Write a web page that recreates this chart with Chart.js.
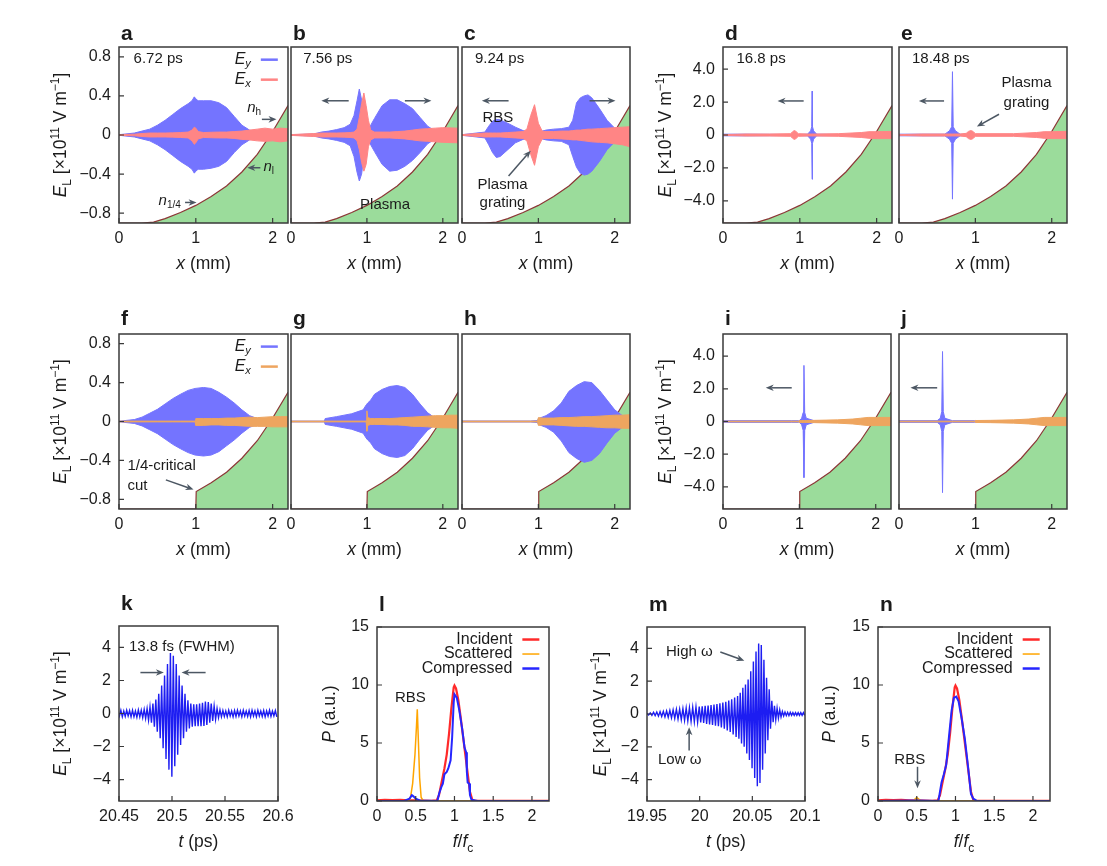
<!DOCTYPE html>
<html>
<head>
<meta charset="utf-8">
<script src="https://cdn.jsdelivr.net/npm/chart.js@4.4.1/dist/chart.umd.min.js"></script>
<style>
  body { margin: 0; background: #fff; }
  #fig { position: relative; width: 1107px; height: 866px; overflow: hidden; background: #fff; }
  #fig canvas { position: absolute; }
</style>
</head>
<body>
<div id="fig"></div>
<script>
// ---- tick values / labels ----
const xTicksMM = [0, 1, 2];
const xLabelsMM = ['0', '1', '2'];
const yTicksSmall = [-0.8, -0.4, 0, 0.4, 0.8];
const yLabelsSmall = ['\u22120.8', '\u22120.4', '0', '0.4', '0.8'];
const yTicksBig = [-4, -2, 0, 2, 4];
const yLabelsBig = ['\u22124.0', '\u22122.0', '0', '2.0', '4.0'];
const yLabelsWave = ['\u22124', '\u22122', '0', '2', '4'];
const yTicksP = [0, 5, 10, 15];
const yLabelsP = ['0', '5', '10', '15'];
const xTicksF = [0, 0.5, 1, 1.5, 2];
const xLabelsF = ['0', '0.5', '1', '1.5', '2'];
const xTicksK = [20.45, 20.5, 20.55, 20.6];
const xLabelsK = ['20.45', '20.5', '20.55', '20.6'];
const xTicksM = [19.95, 20, 20.05, 20.1];
const xLabelsM = ['19.95', '20', '20.05', '20.1'];

// ---- plasma density profile (hidden axis, 0 = bottom of panel) ----
const densX = [0, 0.3, 0.45, 0.6, 0.8, 1.0, 1.2, 1.4, 1.6, 1.8, 2.0, 2.2];
const densN = [0, 0, 0.005, 0.025, 0.06, 0.1, 0.15, 0.21, 0.29, 0.39, 0.52, 0.667];
const cutX = [0, 1.0, 1.005, 1.2, 1.4, 1.6, 1.8, 2.0, 2.2];
const cutN = [0, 0, 0.1, 0.15, 0.21, 0.29, 0.39, 0.52, 0.667];

// ---- field envelopes (x in mm, field in 1e11 V/m) ----
const aX = [0, 0.2, 0.3, 0.4, 0.5, 0.6, 0.7, 0.8, 0.9, 0.95, 0.98, 1.0, 1.03, 1.1, 1.2, 1.3, 1.4, 1.5, 1.6, 1.7, 1.8, 1.9, 2.0, 2.1, 2.2];
const aEyUp = [0.003, 0.02, 0.04, 0.06, 0.1, 0.15, 0.21, 0.27, 0.32, 0.35, 0.39, 0.37, 0.35, 0.35, 0.35, 0.33, 0.28, 0.19, 0.1, 0.05, 0.03, 0.02, 0.015, 0.01, 0.01];
const aEyLo = [-0.003, -0.02, -0.04, -0.06, -0.1, -0.15, -0.21, -0.27, -0.32, -0.35, -0.39, -0.37, -0.35, -0.35, -0.34, -0.32, -0.27, -0.18, -0.1, -0.05, -0.03, -0.02, -0.015, -0.01, -0.01];
const aExUp = [0.004, 0.008, 0.015, 0.02, 0.02, 0.02, 0.022, 0.025, 0.03, 0.05, 0.08, 0.07, 0.035, 0.025, 0.028, 0.03, 0.03, 0.035, 0.04, 0.05, 0.06, 0.07, 0.06, 0.07, 0.065];
const aExLo = [-0.004, -0.008, -0.015, -0.02, -0.02, -0.02, -0.022, -0.025, -0.03, -0.06, -0.095, -0.08, -0.04, -0.025, -0.028, -0.03, -0.03, -0.035, -0.045, -0.05, -0.06, -0.065, -0.06, -0.07, -0.06];

const bX = [0, 0.3, 0.4, 0.5, 0.6, 0.7, 0.78, 0.83, 0.87, 0.9, 0.93, 0.96, 0.99, 1.02, 1.05, 1.1, 1.2, 1.3, 1.4, 1.5, 1.6, 1.7, 1.8, 1.9, 2.0, 2.2];
const bEyUp = [0.003, 0.01, 0.03, 0.04, 0.055, 0.075, 0.11, 0.2, 0.35, 0.47, 0.36, 0.2, 0.09, 0.07, 0.1, 0.17, 0.3, 0.36, 0.36, 0.32, 0.27, 0.18, 0.09, 0.04, 0.02, 0.01];
const bEyLo = [-0.003, -0.01, -0.03, -0.04, -0.055, -0.075, -0.11, -0.22, -0.38, -0.47, -0.4, -0.22, -0.09, -0.07, -0.1, -0.17, -0.3, -0.37, -0.36, -0.32, -0.26, -0.18, -0.09, -0.04, -0.02, -0.01];
const bExUp = [0.004, 0.015, 0.02, 0.02, 0.02, 0.022, 0.025, 0.03, 0.06, 0.18, 0.32, 0.43, 0.3, 0.15, 0.05, 0.03, 0.03, 0.03, 0.035, 0.04, 0.05, 0.06, 0.065, 0.07, 0.075, 0.07];
const bExLo = [-0.004, -0.015, -0.02, -0.02, -0.02, -0.022, -0.025, -0.03, -0.06, -0.15, -0.28, -0.37, -0.3, -0.12, -0.05, -0.03, -0.03, -0.03, -0.035, -0.04, -0.05, -0.06, -0.065, -0.07, -0.075, -0.08];

const cX = [0, 0.3, 0.35, 0.4, 0.45, 0.5, 0.6, 0.7, 0.8, 0.85, 0.9, 0.95, 1.0, 1.05, 1.1, 1.2, 1.3, 1.4, 1.45, 1.5, 1.55, 1.6, 1.65, 1.7, 1.8, 1.9, 2.0, 2.1, 2.2];
const cEyUp = [0.003, 0.03, 0.09, 0.14, 0.16, 0.155, 0.12, 0.08, 0.045, 0.035, 0.03, 0.025, 0.03, 0.04, 0.05, 0.06, 0.065, 0.08, 0.15, 0.33, 0.38, 0.4, 0.41, 0.38, 0.27, 0.15, 0.07, 0.05, 0.04];
const cEyLo = [-0.003, -0.03, -0.1, -0.18, -0.23, -0.22, -0.15, -0.08, -0.045, -0.035, -0.03, -0.025, -0.03, -0.04, -0.05, -0.06, -0.065, -0.1, -0.22, -0.33, -0.39, -0.41, -0.4, -0.37, -0.27, -0.15, -0.07, -0.05, -0.04];
const cExUp = [0.004, 0.02, 0.02, 0.02, 0.02, 0.02, 0.025, 0.03, 0.035, 0.06, 0.2, 0.31, 0.12, 0.04, 0.035, 0.035, 0.04, 0.04, 0.045, 0.05, 0.05, 0.055, 0.06, 0.06, 0.065, 0.07, 0.075, 0.08, 0.085];
const cExLo = [-0.004, -0.02, -0.02, -0.02, -0.02, -0.02, -0.025, -0.03, -0.035, -0.06, -0.2, -0.31, -0.12, -0.04, -0.035, -0.035, -0.04, -0.045, -0.05, -0.05, -0.055, -0.06, -0.065, -0.07, -0.075, -0.08, -0.09, -0.1, -0.12];

const dX = [0, 0.3, 0.6, 0.88, 0.91, 0.93, 0.95, 0.98, 1.1, 1.14, 1.155, 1.16, 1.165, 1.18, 1.22, 1.5, 1.8, 1.9, 2.0, 2.2];
const dEyUp = [0.05, 0.05, 0.04, 0.03, 0.03, 0.03, 0.03, 0.03, 0.05, 0.25, 0.5, 2.67, 0.5, 0.25, 0.05, 0.03, 0.03, 0.03, 0.03, 0.03];
const dEyLo = [-0.05, -0.05, -0.04, -0.03, -0.03, -0.03, -0.03, -0.03, -0.05, -0.25, -0.5, -2.69, -0.5, -0.25, -0.05, -0.03, -0.03, -0.03, -0.03, -0.03];
const dExUp = [0.02, 0.06, 0.06, 0.08, 0.22, 0.27, 0.22, 0.08, 0.06, 0.06, 0.06, 0.06, 0.06, 0.06, 0.06, 0.08, 0.15, 0.2, 0.2, 0.22];
const dExLo = [-0.02, -0.06, -0.06, -0.08, -0.22, -0.27, -0.22, -0.08, -0.06, -0.06, -0.06, -0.06, -0.06, -0.06, -0.06, -0.08, -0.15, -0.2, -0.22, -0.22];

const eX = [0, 0.3, 0.6, 0.66, 0.69, 0.7, 0.71, 0.74, 0.8, 0.88, 0.91, 0.94, 0.97, 1.0, 1.5, 1.8, 1.9, 2.0, 2.2];
const eEyUp = [0.05, 0.05, 0.05, 0.25, 0.5, 3.85, 0.5, 0.25, 0.05, 0.03, 0.03, 0.03, 0.03, 0.03, 0.03, 0.03, 0.03, 0.03, 0.03];
const eEyLo = [-0.05, -0.05, -0.05, -0.25, -0.5, -3.9, -0.5, -0.25, -0.05, -0.03, -0.03, -0.03, -0.03, -0.03, -0.03, -0.03, -0.03, -0.03, -0.03];
const eExUp = [0.02, 0.06, 0.06, 0.06, 0.06, 0.06, 0.06, 0.06, 0.06, 0.1, 0.22, 0.27, 0.22, 0.08, 0.08, 0.15, 0.2, 0.2, 0.22];
const eExLo = [-0.02, -0.06, -0.06, -0.06, -0.06, -0.06, -0.06, -0.06, -0.06, -0.1, -0.22, -0.27, -0.22, -0.08, -0.08, -0.15, -0.2, -0.22, -0.22];

const fX = [0, 0.2, 0.3, 0.4, 0.5, 0.6, 0.7, 0.8, 0.9, 0.99, 1.0, 1.1, 1.2, 1.3, 1.4, 1.5, 1.6, 1.7, 1.8, 1.9, 2.0, 2.1, 2.2];
const fEyUp = [0.003, 0.02, 0.045, 0.085, 0.125, 0.18, 0.235, 0.28, 0.32, 0.34, 0.34, 0.35, 0.34, 0.3, 0.25, 0.19, 0.12, 0.06, 0.03, 0.015, 0.01, 0.01, 0.01];
const fEyLo = [-0.003, -0.02, -0.045, -0.085, -0.125, -0.18, -0.235, -0.28, -0.32, -0.345, -0.345, -0.355, -0.345, -0.31, -0.25, -0.19, -0.12, -0.06, -0.03, -0.015, -0.01, -0.01, -0.01];
const fExUp = [0.004, 0.004, 0.004, 0.004, 0.004, 0.004, 0.004, 0.004, 0.004, 0.004, 0.03, 0.03, 0.03, 0.03, 0.035, 0.035, 0.04, 0.045, 0.04, 0.045, 0.05, 0.05, 0.05];
const fExLo = [-0.004, -0.004, -0.004, -0.004, -0.004, -0.004, -0.004, -0.004, -0.004, -0.004, -0.04, -0.04, -0.035, -0.035, -0.04, -0.04, -0.045, -0.05, -0.05, -0.05, -0.055, -0.055, -0.055];

const gX = [0, 0.44, 0.45, 0.6, 0.8, 0.95, 0.99, 1.0, 1.01, 1.05, 1.1, 1.2, 1.3, 1.4, 1.5, 1.6, 1.7, 1.8, 1.9, 2.0, 2.1, 2.2];
const gEyUp = [0.004, 0.004, 0.03, 0.05, 0.08, 0.12, 0.17, 0.18, 0.19, 0.22, 0.28, 0.33, 0.36, 0.37, 0.35, 0.28, 0.18, 0.09, 0.035, 0.015, 0.01, 0.01];
const gEyLo = [-0.004, -0.004, -0.03, -0.05, -0.08, -0.12, -0.17, -0.18, -0.19, -0.22, -0.28, -0.33, -0.36, -0.37, -0.35, -0.28, -0.18, -0.09, -0.035, -0.015, -0.01, -0.01];
const gExUp = [0.004, 0.004, 0.004, 0.004, 0.004, 0.004, 0.004, 0.11, 0.04, 0.03, 0.03, 0.03, 0.03, 0.035, 0.04, 0.045, 0.05, 0.055, 0.06, 0.06, 0.065, 0.065];
const gExLo = [-0.004, -0.004, -0.004, -0.004, -0.004, -0.004, -0.004, -0.1, -0.04, -0.03, -0.03, -0.03, -0.035, -0.035, -0.04, -0.05, -0.05, -0.055, -0.06, -0.065, -0.065, -0.07];

const hX = [0, 0.9, 0.99, 1.0, 1.05, 1.1, 1.2, 1.3, 1.4, 1.5, 1.6, 1.7, 1.8, 1.9, 2.0, 2.1, 2.2];
const hEyUp = [0.005, 0.005, 0.01, 0.03, 0.045, 0.06, 0.11, 0.19, 0.31, 0.37, 0.41, 0.4, 0.32, 0.22, 0.12, 0.06, 0.04];
const hEyLo = [-0.005, -0.005, -0.01, -0.03, -0.045, -0.06, -0.11, -0.2, -0.32, -0.38, -0.42, -0.4, -0.33, -0.22, -0.12, -0.06, -0.04];
const hExUp = [0.004, 0.004, 0.004, 0.04, 0.035, 0.035, 0.035, 0.04, 0.04, 0.045, 0.05, 0.05, 0.055, 0.06, 0.065, 0.065, 0.07];
const hExLo = [-0.004, -0.004, -0.004, -0.04, -0.035, -0.035, -0.035, -0.04, -0.045, -0.05, -0.05, -0.055, -0.06, -0.065, -0.065, -0.07, -0.07];

const iX = [0, 0.9, 0.99, 1.0, 1.03, 1.05, 1.06, 1.07, 1.09, 1.2, 1.5, 1.7, 1.8, 1.9, 2.0, 2.2];
const iEyUp = [0.05, 0.05, 0.05, 0.05, 0.2, 0.55, 3.43, 0.55, 0.2, 0.04, 0.03, 0.03, 0.03, 0.03, 0.03, 0.03];
const iEyLo = [-0.05, -0.05, -0.05, -0.05, -0.2, -0.55, -3.43, -0.55, -0.2, -0.04, -0.03, -0.03, -0.03, -0.03, -0.03, -0.03];
const iExUp = [0.02, 0.02, 0.02, 0.06, 0.06, 0.06, 0.06, 0.06, 0.06, 0.07, 0.1, 0.15, 0.2, 0.25, 0.25, 0.25];
const iExLo = [-0.02, -0.02, -0.02, -0.06, -0.06, -0.06, -0.06, -0.06, -0.06, -0.07, -0.1, -0.15, -0.2, -0.25, -0.25, -0.25];

const jX = [0, 0.5, 0.54, 0.56, 0.57, 0.58, 0.6, 0.7, 0.99, 1.0, 1.2, 1.5, 1.7, 1.8, 1.9, 2.0, 2.2];
const jEyUp = [0.05, 0.05, 0.2, 0.6, 4.28, 0.6, 0.2, 0.05, 0.05, 0.04, 0.03, 0.03, 0.03, 0.03, 0.03, 0.03, 0.03];
const jEyLo = [-0.05, -0.05, -0.2, -0.6, -4.35, -0.6, -0.2, -0.05, -0.05, -0.04, -0.03, -0.03, -0.03, -0.03, -0.03, -0.03, -0.03];
const jExUp = [0.02, 0.02, 0.02, 0.02, 0.02, 0.02, 0.02, 0.02, 0.02, 0.06, 0.07, 0.1, 0.15, 0.2, 0.25, 0.25, 0.25];
const jExLo = [-0.02, -0.02, -0.02, -0.02, -0.02, -0.02, -0.02, -0.02, -0.02, -0.06, -0.07, -0.1, -0.15, -0.2, -0.25, -0.25, -0.25];

// ---- compressed pulses: per-cycle positive / negative peaks (t in ps) ----
const kSegs = [
  { t0: 20.449, period: 0.00275,
    pos: [0.15, 0.2, 0.15, 0.2, 0.18, 0.2, 0.15, 0.22, 0.2, 0.25, 0.3, 0.4, 0.6, 0.85, 1.2, 1.7, 2.3, 3.0, 3.67, 3.5, 3.0, 2.3, 1.7, 1.2, 0.8, 0.6, 0.55, 0.55, 0.6, 0.65, 0.72, 0.7, 0.6, 0.45, 0.3, 0.22, 0.18, 0.15, 0.2, 0.15, 0.18, 0.2, 0.15, 0.2, 0.15, 0.18, 0.2, 0.15, 0.2, 0.15, 0.18, 0.15, 0.2, 0.15, 0.18],
    neg: [-0.15, -0.2, -0.18, -0.15, -0.2, -0.2, -0.22, -0.2, -0.25, -0.3, -0.4, -0.55, -0.8, -1.1, -1.5, -2.1, -2.75, -3.4, -3.83, -3.2, -2.5, -1.9, -1.5, -1.1, -0.9, -0.8, -0.77, -0.77, -0.77, -0.75, -0.7, -0.56, -0.45, -0.35, -0.25, -0.2, -0.18, -0.2, -0.15, -0.2, -0.18, -0.15, -0.2, -0.15, -0.18, -0.2, -0.15, -0.2, -0.15, -0.18, -0.2, -0.15, -0.18, -0.15, -0.2] }
];
const mSegs = [
  { t0: 19.95, period: 0.0031,
    pos: [0.05, 0.07, 0.1, 0.12, 0.14, 0.16, 0.18, 0.22, 0.25, 0.28, 0.3, 0.33, 0.36, 0.38, 0.4, 0.43],
    neg: [-0.06, -0.08, -0.1, -0.13, -0.15, -0.18, -0.2, -0.24, -0.27, -0.3, -0.34, -0.38, -0.42, -0.45, -0.47, -0.5] },
  { t0: 19.9996, period: 0.0028,
    pos: [0.45, 0.47, 0.5, 0.52, 0.55, 0.58, 0.6, 0.65, 0.7, 0.75, 0.82, 0.9, 1.0],
    neg: [-0.52, -0.55, -0.6, -0.63, -0.67, -0.72, -0.75, -0.82, -0.9, -1.0, -1.1, -1.25, -1.4] },
  { t0: 20.036, period: 0.0025,
    pos: [1.1, 1.3, 1.6, 1.8, 2.1, 2.6, 3.2, 3.8, 4.3, 4.2, 3.3, 2.2, 1.5, 0.8, 0.5, 0.35, 0.25, 0.15, 0.12, 0.1, 0.1, 0.08, 0.08, 0.08, 0.08, 0.08],
    neg: [-1.5, -1.8, -2.0, -2.4, -2.8, -3.3, -3.9, -4.4, -4.2, -3.4, -2.4, -1.6, -0.9, -0.5, -0.35, -0.25, -0.18, -0.12, -0.1, -0.1, -0.08, -0.08, -0.08, -0.08, -0.08, -0.08] }
];

// ---- spectra (f/fc, a.u.) ----
const incX = [0, 0.1, 0.2, 0.3, 0.4, 0.5, 0.6, 0.7, 0.77, 0.8, 0.83, 0.87, 0.9, 0.93, 0.96, 0.99, 1.0, 1.02, 1.05, 1.08, 1.11, 1.14, 1.17, 1.2, 1.23, 1.26, 1.5, 2.0, 2.22];
const incY = [0.05, 0.1, 0.08, 0.1, 0.06, 0.05, 0.03, 0.02, 0.05, 0.5, 1.5, 2.8, 4.0, 5.8, 8.0, 9.8, 9.95, 9.7, 8.7, 7.2, 5.6, 4.0, 2.4, 0.8, 0.1, 0.02, 0.02, 0.02, 0.02];
const lScaX = [0, 0.4, 0.43, 0.46, 0.49, 0.51, 0.52, 0.535, 0.55, 0.57, 0.6, 2.22];
const lScaY = [0, 0, 0.2, 1.5, 4.0, 6.5, 7.9, 5.0, 2.0, 0.3, 0, 0];
const lComX = [0, 0.35, 0.42, 0.45, 0.47, 0.5, 0.55, 0.78, 0.8, 0.83, 0.85, 0.87, 0.9, 0.92, 0.95, 0.97, 0.99, 1.0, 1.03, 1.06, 1.1, 1.13, 1.15, 1.16, 1.17, 1.19, 1.2, 1.22, 1.3, 2.22];
const lComY = [0, 0, 0.2, 0.5, 0.4, 0.2, 0.05, 0, 0.6, 1.2, 1.5, 2.3, 2.5, 2.8, 3.5, 5.5, 8.5, 9.2, 8.9, 7.9, 6.2, 4.6, 4.2, 2.5, 1.6, 1.5, 0.5, 0.1, 0, 0];
const nScaX = [0, 0.45, 0.5, 0.53, 0.56, 2.22];
const nScaY = [0, 0, 0.3, 0.15, 0, 0];
const nComX = [0, 0.5, 0.78, 0.8, 0.82, 0.85, 0.88, 0.92, 0.95, 0.98, 1.01, 1.04, 1.08, 1.12, 1.16, 1.2, 1.23, 1.28, 2.22];
const nComY = [0, 0.05, 0, 0.8, 1.6, 2.3, 3.1, 5.8, 7.8, 8.9, 9.0, 8.6, 7.1, 5.4, 3.1, 0.6, 0.2, 0, 0];

// ---- styling ----
const FONT = '"Liberation Sans", Arial, Helvetica, sans-serif';
const INK = '#1b1b1b';
const ARROW = '#4c5763';
const EY = '#7474ff';
const EX_PINK = '#ff8585';
const EX_ORANGE = '#eea55f';
const GREEN = '#9bdc9b';
const BROWN = '#8c3636';
const WAVE = '#1d1df2';
const RED = '#ff2a2a', ORANGE = '#ffa500', BLUE = '#2626ff';
const PAD = { l: 80, t: 40, r: 30, b: 75 };

Chart.defaults.font.family = FONT;
Chart.defaults.color = INK;

const EL = [['E', 'i'], ['L', 'sub'], [' [\u00d710', ''], ['11', 'sup'], [' V m', ''], ['\u22121', 'sup'], [']', '']];
const XMM = [['x', 'i'], [' (mm)', '']];
const TPS = [['t', 'i'], [' (ps)', '']];
const FFC = [['f', 'i'], ['/', ''], ['f', 'i'], ['c', 'sub']];
const PAU = [['P', 'i'], [' (a.u.)', '']];
const EYL = [['E', 'i'], ['y', 'isub']];
const EXL = [['E', 'i'], ['x', 'isub']];

function segFont(st, size) {
  const small = st === 'sub' || st === 'sup' || st === 'isub';
  const it = st === 'i' || st === 'isub';
  return (it ? 'italic ' : '') + (small ? Math.round(size * 0.68) : size) + 'px ' + FONT;
}
function segShift(st, size) {
  if (st === 'sub' || st === 'isub') return size * 0.28;
  if (st === 'sup') return -size * 0.4;
  return 0;
}
function drawRich(ctx, segs, x, y, size, align) {
  if (typeof segs === 'string') segs = [[segs, '']];
  let w = 0;
  segs.forEach(([t, st]) => { ctx.font = segFont(st, size); w += ctx.measureText(t).width; });
  let cx = align === 'center' ? x - w / 2 : align === 'right' ? x - w : x;
  ctx.textAlign = 'left';
  segs.forEach(([t, st]) => {
    ctx.font = segFont(st, size);
    ctx.fillText(t, cx, y + segShift(st, size));
    cx += ctx.measureText(t).width;
  });
}
function arrow(ctx, x1, y1, x2, y2) {
  const ang = Math.atan2(y2 - y1, x2 - x1), hl = 8, hw = 3.3;
  const c = Math.cos(ang), s = Math.sin(ang);
  ctx.beginPath();
  ctx.moveTo(x1, y1);
  ctx.lineTo(x2 - hl * 0.7 * c, y2 - hl * 0.7 * s);
  ctx.stroke();
  ctx.beginPath();
  ctx.moveTo(x2, y2);
  ctx.lineTo(x2 - hl * c + hw * s, y2 - hl * s - hw * c);
  ctx.lineTo(x2 - hl * 0.7 * c, y2 - hl * 0.7 * s);
  ctx.lineTo(x2 - hl * c - hw * s, y2 - hl * s + hw * c);
  ctx.closePath();
  ctx.fill();
}

function deco(d) {
  return {
    id: 'deco',
    afterDraw(chart) {
      const { ctx, chartArea: a } = chart;
      const sx = chart.scales.x, sy = chart.scales.y;
      const X = v => sx.getPixelForValue(v), Y = v => sy.getPixelForValue(v);
      ctx.save();
      // inner tick marks
      ctx.strokeStyle = '#3a3a3a';
      ctx.lineWidth = 1.2;
      ctx.beginPath();
      sx.ticks.forEach(t => { ctx.moveTo(X(t.value), a.bottom); ctx.lineTo(X(t.value), a.bottom - 5); });
      if (d.yTicks) sy.ticks.forEach(t => { ctx.moveTo(a.left, Y(t.value)); ctx.lineTo(a.left + 5, Y(t.value)); });
      ctx.stroke();
      // frame
      ctx.lineWidth = 1.5;
      ctx.strokeRect(a.left, a.top, a.right - a.left, a.bottom - a.top);
      // panel letter + axis titles
      ctx.fillStyle = INK;
      ctx.textBaseline = 'alphabetic';
      ctx.textAlign = 'left';
      ctx.font = 'bold 21px ' + FONT;
      ctx.fillText(d.letter, a.left + 2, a.top - d.letterDy);
      drawRich(ctx, d.xTitle, (a.left + a.right) / 2, a.bottom + 46, 17.5, 'center');
      if (d.yTitle) {
        ctx.save();
        ctx.translate(a.left - d.yOff, (a.top + a.bottom) / 2);
        ctx.rotate(-Math.PI / 2);
        drawRich(ctx, d.yTitle, 0, 0, 17.5, 'center');
        ctx.restore();
      }
      // arrows
      ctx.strokeStyle = ARROW;
      ctx.fillStyle = ARROW;
      ctx.lineWidth = 1.5;
      (d.arrows || []).forEach(([x1, y1, x2, y2]) => arrow(ctx, X(x1), Y(y1), X(x2), Y(y2)));
      // notes
      ctx.fillStyle = INK;
      ctx.textBaseline = 'middle';
      (d.notes || []).forEach(([x, y, segs, align]) => drawRich(ctx, segs, X(x), Y(y), 15, align || 'left'));
      // legend
      if (d.legend) {
        const L = d.legend;
        const lx = a.left + L.fx * (a.right - a.left);
        L.items.forEach(([segs, color, lw], i) => {
          const ly = a.top + L.fy * (a.bottom - a.top) + i * L.dy;
          ctx.fillStyle = INK;
          drawRich(ctx, segs, lx, ly, 16, 'right');
          ctx.strokeStyle = color;
          ctx.lineWidth = lw;
          ctx.beginPath();
          ctx.moveTo(lx + 10, ly);
          ctx.lineTo(lx + 27, ly);
          ctx.stroke();
        });
      }
      ctx.restore();
    }
  };
}

function pts(xs, ys) { return xs.map((x, i) => ({ x, y: ys[i] })); }

function carrier(segs) {
  const out = [];
  segs.forEach(s => s.pos.forEach((p, i) => {
    const t = s.t0 + i * s.period;
    out.push({ x: t, y: p }, { x: t + s.period / 2, y: s.neg[i] });
  }));
  return out;
}

function fieldSets(profX, profN, x, eyUp, eyLo, exUp, exLo, exColor) {
  return [
    { data: pts(profX, profN), yAxisID: 'yd', borderColor: BROWN, borderWidth: 1.2, backgroundColor: GREEN, fill: 'start', order: 3 },
    { data: pts(x, eyUp), borderColor: EY, borderWidth: 1, fill: false, order: 2 },
    { data: pts(x, eyLo), borderColor: EY, borderWidth: 1, backgroundColor: EY, fill: '-1', order: 2 },
    { data: pts(x, exUp), borderColor: exColor, borderWidth: 1, fill: false, order: 1 },
    { data: pts(x, exLo), borderColor: exColor, borderWidth: 1, backgroundColor: exColor, fill: '-1', order: 1 }
  ];
}

function addPanel(box, cfg) {
  const [L, T, R, B] = box;
  const w = R - L + PAD.l + PAD.r, h = B - T + PAD.t + PAD.b;
  const c = document.createElement('canvas');
  c.width = w; c.height = h;
  c.style.left = (L - PAD.l) + 'px';
  c.style.top = (T - PAD.t) + 'px';
  c.style.width = w + 'px';
  c.style.height = h + 'px';
  document.getElementById('fig').appendChild(c);
  return new Chart(c, {
    type: 'line',
    data: { datasets: cfg.datasets },
    options: {
      responsive: false,
      animation: false,
      devicePixelRatio: 1,
      events: [],
      layout: { padding: { left: 0, top: PAD.t, right: PAD.r, bottom: 0 } },
      elements: { point: { radius: 0 }, line: { tension: 0 } },
      plugins: { legend: { display: false }, tooltip: { enabled: false } },
      scales: {
        x: {
          type: 'linear', min: cfg.xr[0], max: cfg.xr[1],
          grid: { display: false, drawTicks: false }, border: { display: false },
          afterBuildTicks: s => { s.ticks = cfg.xt.map(v => ({ value: v })); },
          afterFit: s => { s.height = PAD.b; },
          ticks: { autoSkip: false, maxRotation: 0, padding: 6, color: INK, font: { size: 16 }, callback: (v, i) => cfg.xl[i] }
        },
        y: {
          type: 'linear', min: cfg.yr[0], max: cfg.yr[1],
          grid: { display: false, drawTicks: false }, border: { display: false },
          afterBuildTicks: s => { s.ticks = cfg.yt.map(v => ({ value: v })); },
          afterFit: s => { s.width = PAD.l; },
          ticks: { display: !!cfg.yl, padding: 8, color: INK, font: { size: 16 }, callback: (v, i) => cfg.yl ? cfg.yl[i] : '' }
        },
        yd: { type: 'linear', display: false, min: 0, max: 1 }
      }
    },
    plugins: [deco(cfg.deco)]
  });
}

const SMALL = { xr: [0, 2.2], xt: xTicksMM, xl: xLabelsMM, yr: [-0.9, 0.9], yt: yTicksSmall };
const BIG = { xr: [0, 2.2], xt: xTicksMM, xl: xLabelsMM, yr: [-5.35, 5.35], yt: yTicksBig };

// ---- row 1 ----
addPanel([119, 47, 288, 223], Object.assign({}, SMALL, {
  yl: yLabelsSmall,
  datasets: fieldSets(densX, densN, aX, aEyUp, aEyLo, aExUp, aExLo, EX_PINK),
  deco: { letter: 'a', letterDy: 7, yTicks: true, yTitle: EL, yOff: 53, xTitle: XMM,
    notes: [[0.19, 0.78, '6.72 ps'], [1.76, 0.28, [['n', 'i'], ['h', 'sub']], 'center'], [1.95, -0.33, [['n', 'i'], ['l', 'sub']], 'center'], [0.66, -0.675, [['n', 'i'], ['1/4', 'sub']], 'center']],
    arrows: [[1.86, 0.16, 2.05, 0.16], [1.84, -0.335, 1.67, -0.335], [0.86, -0.69, 1.01, -0.69]],
    legend: { fx: 0.78, fy: 0.072, dy: 20, items: [[EYL, EY, 2.5], [EXL, EX_PINK, 2.5]] } }
}));
addPanel([291, 47, 458, 223], Object.assign({}, SMALL, {
  datasets: fieldSets(densX, densN, bX, bEyUp, bEyLo, bExUp, bExLo, EX_PINK),
  deco: { letter: 'b', letterDy: 7, xTitle: XMM,
    notes: [[0.16, 0.78, '7.56 ps'], [1.24, -0.71, 'Plasma', 'center']],
    arrows: [[0.76, 0.35, 0.40, 0.35], [1.50, 0.35, 1.85, 0.35]] }
}));
addPanel([462, 47, 630, 223], Object.assign({}, SMALL, {
  datasets: fieldSets(densX, densN, cX, cEyUp, cEyLo, cExUp, cExLo, EX_PINK),
  deco: { letter: 'c', letterDy: 7, xTitle: XMM,
    notes: [[0.17, 0.78, '9.24 ps'], [0.47, 0.18, 'RBS', 'center'], [0.53, -0.51, 'Plasma', 'center'], [0.53, -0.69, 'grating', 'center']],
    arrows: [[0.61, 0.35, 0.26, 0.35], [1.67, 0.35, 2.01, 0.35], [0.61, -0.42, 0.9, -0.16]] }
}));
addPanel([723, 47, 892, 223], Object.assign({}, BIG, {
  yl: yLabelsBig,
  datasets: fieldSets(densX, densN, dX, dEyUp, dEyLo, dExUp, dExLo, EX_PINK),
  deco: { letter: 'd', letterDy: 7, yTicks: true, yTitle: EL, yOff: 52, xTitle: XMM,
    notes: [[0.175, 4.6, '16.8 ps']],
    arrows: [[1.05, 2.07, 0.71, 2.07]] }
}));
addPanel([899, 47, 1067, 223], Object.assign({}, BIG, {
  datasets: fieldSets(densX, densN, eX, eEyUp, eEyLo, eExUp, eExLo, EX_PINK),
  deco: { letter: 'e', letterDy: 7, xTitle: XMM,
    notes: [[0.17, 4.6, '18.48 ps'], [1.67, 3.18, 'Plasma', 'center'], [1.67, 1.97, 'grating', 'center']],
    arrows: [[0.59, 2.07, 0.26, 2.07], [1.31, 1.26, 1.02, 0.51]] }
}));

// ---- row 2 ----
addPanel([119, 334, 288, 509], Object.assign({}, SMALL, {
  yl: yLabelsSmall,
  datasets: fieldSets(cutX, cutN, fX, fEyUp, fEyLo, fExUp, fExLo, EX_ORANGE),
  deco: { letter: 'f', letterDy: 9, yTicks: true, yTitle: EL, yOff: 53, xTitle: XMM,
    notes: [[0.11, -0.46, '1/4-critical'], [0.11, -0.66, 'cut']],
    arrows: [[0.61, -0.6, 0.97, -0.7]],
    legend: { fx: 0.78, fy: 0.072, dy: 20, items: [[EYL, EY, 2.5], [EXL, EX_ORANGE, 2.5]] } }
}));
addPanel([291, 334, 458, 509], Object.assign({}, SMALL, {
  datasets: fieldSets(cutX, cutN, gX, gEyUp, gEyLo, gExUp, gExLo, EX_ORANGE),
  deco: { letter: 'g', letterDy: 9, xTitle: XMM }
}));
addPanel([462, 334, 630, 509], Object.assign({}, SMALL, {
  datasets: fieldSets(cutX, cutN, hX, hEyUp, hEyLo, hExUp, hExLo, EX_ORANGE),
  deco: { letter: 'h', letterDy: 9, xTitle: XMM }
}));
addPanel([723, 334, 891, 509], Object.assign({}, BIG, {
  yl: yLabelsBig,
  datasets: fieldSets(cutX, cutN, iX, iEyUp, iEyLo, iExUp, iExLo, EX_ORANGE),
  deco: { letter: 'i', letterDy: 9, yTicks: true, yTitle: EL, yOff: 52, xTitle: XMM,
    arrows: [[0.9, 2.06, 0.56, 2.06]] }
}));
addPanel([899, 334, 1067, 509], Object.assign({}, BIG, {
  datasets: fieldSets(cutX, cutN, jX, jEyUp, jEyLo, jExUp, jExLo, EX_ORANGE),
  deco: { letter: 'j', letterDy: 9, xTitle: XMM,
    arrows: [[0.5, 2.06, 0.15, 2.06]] }
}));

// ---- row 3 ----
addPanel([119, 626, 278, 801], {
  xr: [20.45, 20.6], xt: xTicksK, xl: xLabelsK, yr: [-5.3, 5.3], yt: yTicksBig, yl: yLabelsWave,
  datasets: [{ data: carrier(kSegs), borderColor: WAVE, borderWidth: 1.4, fill: false }],
  deco: { letter: 'k', letterDy: 16, yTicks: true, yTitle: EL, yOff: 53, xTitle: TPS,
    notes: [[20.4594, 4.04, '13.8 fs (FWHM)']],
    arrows: [[20.4702, 2.48, 20.4923, 2.48], [20.5317, 2.48, 20.509, 2.48]] }
});
addPanel([377, 627, 549, 801], {
  xr: [0, 2.22], xt: xTicksF, xl: xLabelsF, yr: [0, 15], yt: yTicksP, yl: yLabelsP,
  datasets: [
    { data: pts(lComX, lComY), borderColor: BLUE, borderWidth: 2, fill: false },
    { data: pts(lScaX, lScaY), borderColor: ORANGE, borderWidth: 1.5, fill: false },
    { data: pts(incX, incY), borderColor: RED, borderWidth: 2.2, fill: false }
  ],
  deco: { letter: 'l', letterDy: 16, yTicks: true, yTitle: PAU, yOff: 42, xTitle: FFC,
    notes: [[0.43, 8.9, 'RBS', 'center']],
    legend: { fx: 0.787, fy: 0.072, dy: 14.5, items: [['Incident', RED, 2.5], ['Scattered', ORANGE, 1.5], ['Compressed', BLUE, 2.5]] } }
});
addPanel([647, 627, 805, 801], {
  xr: [19.95, 20.1], xt: xTicksM, xl: xLabelsM, yr: [-5.3, 5.3], yt: yTicksBig, yl: yLabelsWave,
  datasets: [{ data: carrier(mSegs), borderColor: WAVE, borderWidth: 1.4, fill: false }],
  deco: { letter: 'm', letterDy: 16, yTicks: true, yTitle: EL, yOff: 41, xTitle: TPS,
    notes: [[19.968, 3.78, 'High \u03c9'], [19.9604, -2.8, 'Low \u03c9']],
    arrows: [[20.0196, 3.78, 20.0424, 3.25], [19.99, -2.22, 19.99, -0.81]] }
});
addPanel([878, 627, 1050, 801], {
  xr: [0, 2.22], xt: xTicksF, xl: xLabelsF, yr: [0, 15], yt: yTicksP, yl: yLabelsP,
  datasets: [
    { data: pts(nComX, nComY), borderColor: BLUE, borderWidth: 2, fill: false },
    { data: pts(nScaX, nScaY), borderColor: ORANGE, borderWidth: 1.5, fill: false },
    { data: pts(incX, incY), borderColor: RED, borderWidth: 2.2, fill: false }
  ],
  deco: { letter: 'n', letterDy: 16, yTicks: true, yTitle: PAU, yOff: 43, xTitle: FFC,
    notes: [[0.41, 3.53, 'RBS', 'center']],
    arrows: [[0.51, 2.95, 0.51, 1.09]],
    legend: { fx: 0.783, fy: 0.072, dy: 14.5, items: [['Incident', RED, 2.5], ['Scattered', ORANGE, 1.5], ['Compressed', BLUE, 2.5]] } }
});
</script>
</body>
</html>
